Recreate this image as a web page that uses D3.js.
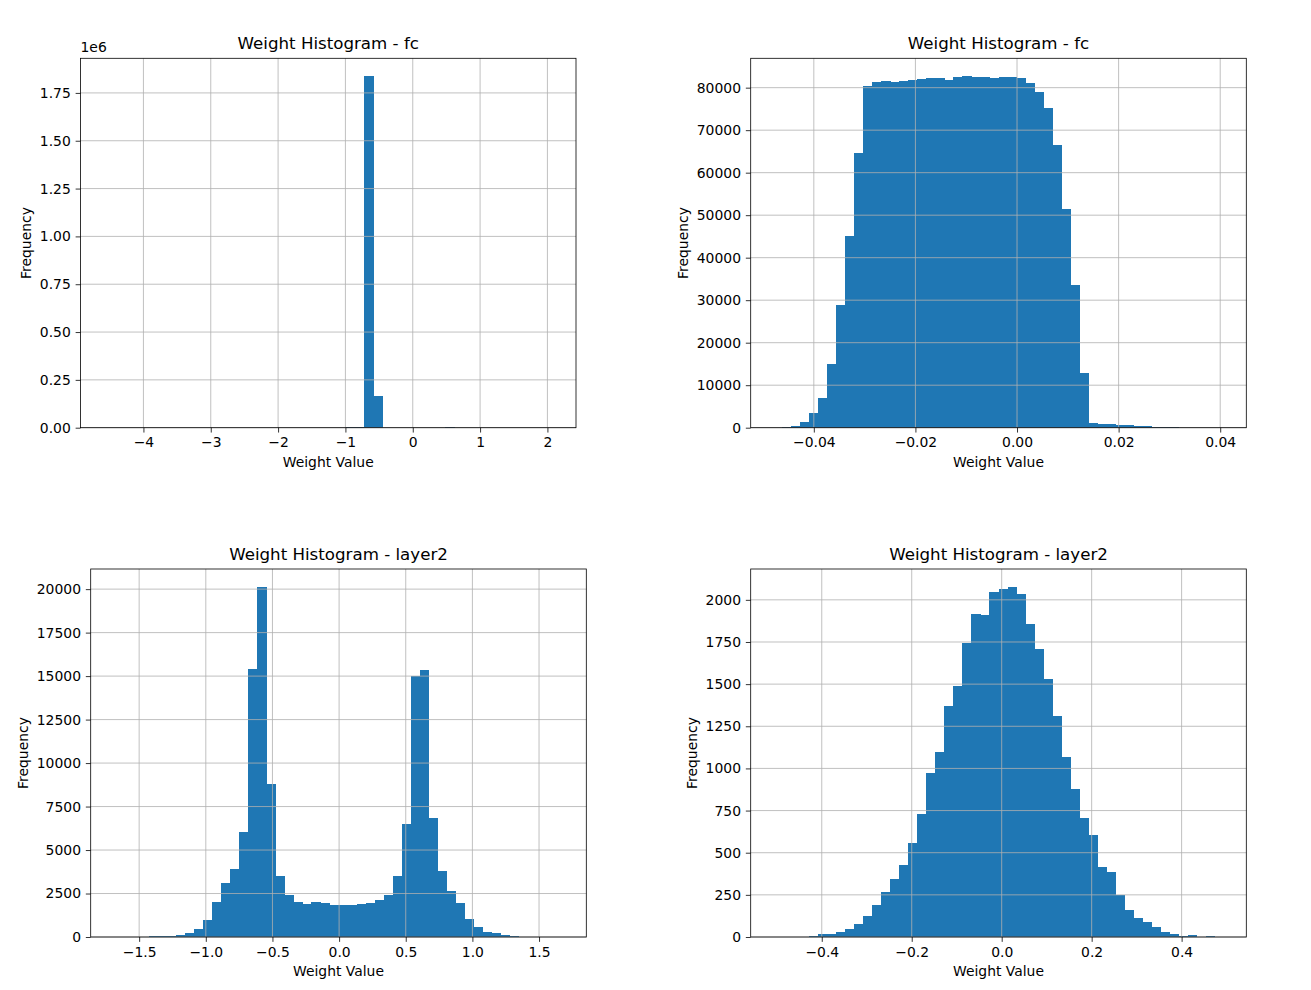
<!DOCTYPE html>
<meta charset="utf-8">
<style>
body { margin: 0; background: #fff; }
.bar { shape-rendering: crispEdges; }
</style>
<body>
<script src="https://cdn.jsdelivr.net/npm/d3@7"></script>
<script>
// histogram counts, 50 equal bins each
const fcAllRange = [-4.60, 2.09];
const fcAllCounts = [1, 0, 0, 0, 0, 0, 0, 0, 0, 0,
  0, 0, 0, 0, 0, 0, 0, 0, 0, 0,
  0, 0, 0, 0, 0, 30, 300, 5000, 6000, 1839000,
  168000, 600, 40, 20, 30, 60, 150, 900, 4000, 200,
  10, 0, 0, 0, 0, 0, 0, 0, 0, 1];

const fcZoomRange = [-0.04799, 0.04070];
const fcZoomCounts = [5, 60, 300, 1330, 3520, 6970, 14960, 28820, 45100, 64530,
  80420, 81360, 81600, 81440, 81600, 81830, 81990, 82220, 82300, 81830,
  82620, 82770, 82620, 82460, 82380, 82620, 82460, 82220, 81200, 79090,
  75100, 66400, 51370, 33520, 12840, 1100, 940, 780, 700, 550,
  400, 300, 250, 120, 60, 30, 15, 8, 3, 1];

const layer2AllRange = [-1.6945, 1.6855];
const layer2AllCounts = [1, 3, 8, 20, 35, 50, 60, 95, 210, 440,
  955, 2040, 3130, 3930, 6050, 15390, 20150, 8770, 3500, 2410,
  1990, 1870, 1990, 1950, 1815, 1815, 1815, 1890, 1950, 2100,
  2425, 3500, 6510, 15030, 15340, 6820, 3820, 2620, 1970, 1010,
  555, 285, 210, 115, 60, 25, 12, 5, 2, 1];

const layer2ZoomRange = [-0.5079, 0.4937];
const layer2ZoomCounts = [1, 0, 1, 2, 4, 18, 20, 31, 47, 79,
  126, 189, 265, 342, 425, 555, 732, 970, 1096, 1369,
  1489, 1743, 1914, 1910, 2046, 2065, 2079, 2032, 1859, 1711,
  1530, 1310, 1070, 879, 704, 608, 415, 383, 248, 159,
  112, 87, 59, 31, 18, 4, 14, 2, 8, 1];

// tick values
const fcAllXTicks = [-4, -3, -2, -1, 0, 1, 2];
const fcAllYTicks = [0, 250000, 500000, 750000, 1000000, 1250000, 1500000, 1750000];
const fcZoomXTicks = [-0.04, -0.02, 0, 0.02, 0.04];
const fcZoomYTicks = [0, 10000, 20000, 30000, 40000, 50000, 60000, 70000, 80000];
const layer2AllXTicks = [-1.5, -1.0, -0.5, 0, 0.5, 1.0, 1.5];
const layer2AllYTicks = [0, 2500, 5000, 7500, 10000, 12500, 15000, 17500, 20000];
const layer2ZoomXTicks = [-0.4, -0.2, 0, 0.2, 0.4];
const layer2ZoomYTicks = [0, 250, 500, 750, 1000, 1250, 1500, 1750, 2000];

var font = "DejaVu Sans, sans-serif";
var barColor = "#1f77b4";

// matplotlib style minus sign
function minus(s) { return s.replace("-", "\u2212"); }
function fixed(k) { return function(d) { return minus(d.toFixed(k)); }; }

var svg = d3.select("body").append("svg")
    .attr("width", 1311)
    .attr("height", 990);

var panels = [
  {title: "Weight Histogram - fc", range: fcAllRange, counts: fcAllCounts,
   xTicks: fcAllXTicks, yTicks: fcAllYTicks, xFmt: fixed(0),
   yFmt: function(d) { return (d / 1e6).toFixed(2); }, offset: "1e6",
   left: 80.5, top: 58.3, width: 495.5, height: 369.4},
  {title: "Weight Histogram - fc", range: fcZoomRange, counts: fcZoomCounts,
   xTicks: fcZoomXTicks, yTicks: fcZoomYTicks, xFmt: fixed(2), yFmt: fixed(0),
   left: 750.7, top: 58.3, width: 495.6, height: 369.4},
  {title: "Weight Histogram - layer2", range: layer2AllRange, counts: layer2AllCounts,
   xTicks: layer2AllXTicks, yTicks: layer2AllYTicks, xFmt: fixed(1), yFmt: fixed(0),
   left: 90.7, top: 569, width: 495.6, height: 368},
  {title: "Weight Histogram - layer2", range: layer2ZoomRange, counts: layer2ZoomCounts,
   xTicks: layer2ZoomXTicks, yTicks: layer2ZoomYTicks, xFmt: fixed(1), yFmt: fixed(0),
   left: 750.7, top: 569, width: 495.6, height: 368}
];

panels.forEach(drawHist);

function drawHist(p) {
  var g = svg.append("g")
      .attr("transform", "translate(" + p.left + "," + p.top + ")");

  var n = p.counts.length;
  var step = (p.range[1] - p.range[0]) / n;
  var margin = (p.range[1] - p.range[0]) * 0.05;

  var x = d3.scaleLinear()
      .domain([p.range[0] - margin, p.range[1] + margin])
      .range([0, p.width]);
  var y = d3.scaleLinear()
      .domain([0, d3.max(p.counts) * 1.05])
      .range([p.height, 0]);

  // bars
  g.selectAll(".bar")
      .data(p.counts)
    .enter().append("rect")
      .attr("class", "bar")
      .attr("x", function(d, i) { return x(p.range[0] + i * step); })
      .attr("width", function(d, i) { return x(p.range[0] + (i + 1) * step) - x(p.range[0] + i * step) + 0.6; })
      .attr("y", function(d) { return y(d); })
      .attr("height", function(d) { return p.height - y(d); })
      .attr("fill", barColor);

  // grid (drawn over the bars, as in the picture)
  g.selectAll(".vgrid")
      .data(p.xTicks)
    .enter().append("line")
      .attr("x1", function(d) { return x(d); })
      .attr("x2", function(d) { return x(d); })
      .attr("y1", 0)
      .attr("y2", p.height)
      .attr("stroke", "#b0b0b0")
      .attr("stroke-width", 0.8);
  g.selectAll(".hgrid")
      .data(p.yTicks)
    .enter().append("line")
      .attr("x1", 0)
      .attr("x2", p.width)
      .attr("y1", function(d) { return y(d); })
      .attr("y2", function(d) { return y(d); })
      .attr("stroke", "#b0b0b0")
      .attr("stroke-width", 0.8);

  // axes
  var xAxis = g.append("g")
      .attr("transform", "translate(0," + p.height + ")")
      .call(d3.axisBottom(x).tickValues(p.xTicks).tickFormat(p.xFmt)
            .tickSize(4.86).tickPadding(4.86));
  var yAxis = g.append("g")
      .call(d3.axisLeft(y).tickValues(p.yTicks).tickFormat(p.yFmt)
            .tickSize(4.86).tickPadding(4.86));

  [xAxis, yAxis].forEach(function(a) {
    a.attr("font-family", font).attr("font-size", 13.9);
    a.select(".domain").remove();
    a.selectAll(".tick line").attr("stroke", "#000").attr("stroke-width", 0.8);
    a.selectAll(".tick text").attr("fill", "#000");
  });

  // spines
  g.append("rect")
      .attr("width", p.width)
      .attr("height", p.height)
      .attr("fill", "none")
      .attr("stroke", "#000")
      .attr("stroke-width", 0.8);

  g.append("text")
      .attr("x", p.width / 2)
      .attr("y", -9.5)
      .attr("text-anchor", "middle")
      .attr("font-family", font)
      .attr("font-size", 16.67)
      .text(p.title);

  g.append("text")
      .attr("x", p.width / 2)
      .attr("y", p.height + 39)
      .attr("text-anchor", "middle")
      .attr("font-family", font)
      .attr("font-size", 13.9)
      .text("Weight Value");

  var bb = yAxis.node().getBBox();
  g.append("text")
      .attr("transform", "translate(" + (bb.x - 8.8) + "," + (p.height / 2) + ") rotate(-90)")
      .attr("text-anchor", "middle")
      .attr("font-family", font)
      .attr("font-size", 13.9)
      .text("Frequency");

  if (p.offset) {
    g.append("text")
        .attr("x", 0)
        .attr("y", -6)
        .attr("font-family", font)
        .attr("font-size", 13.9)
        .text(p.offset);
  }
}
</script>
</body>
